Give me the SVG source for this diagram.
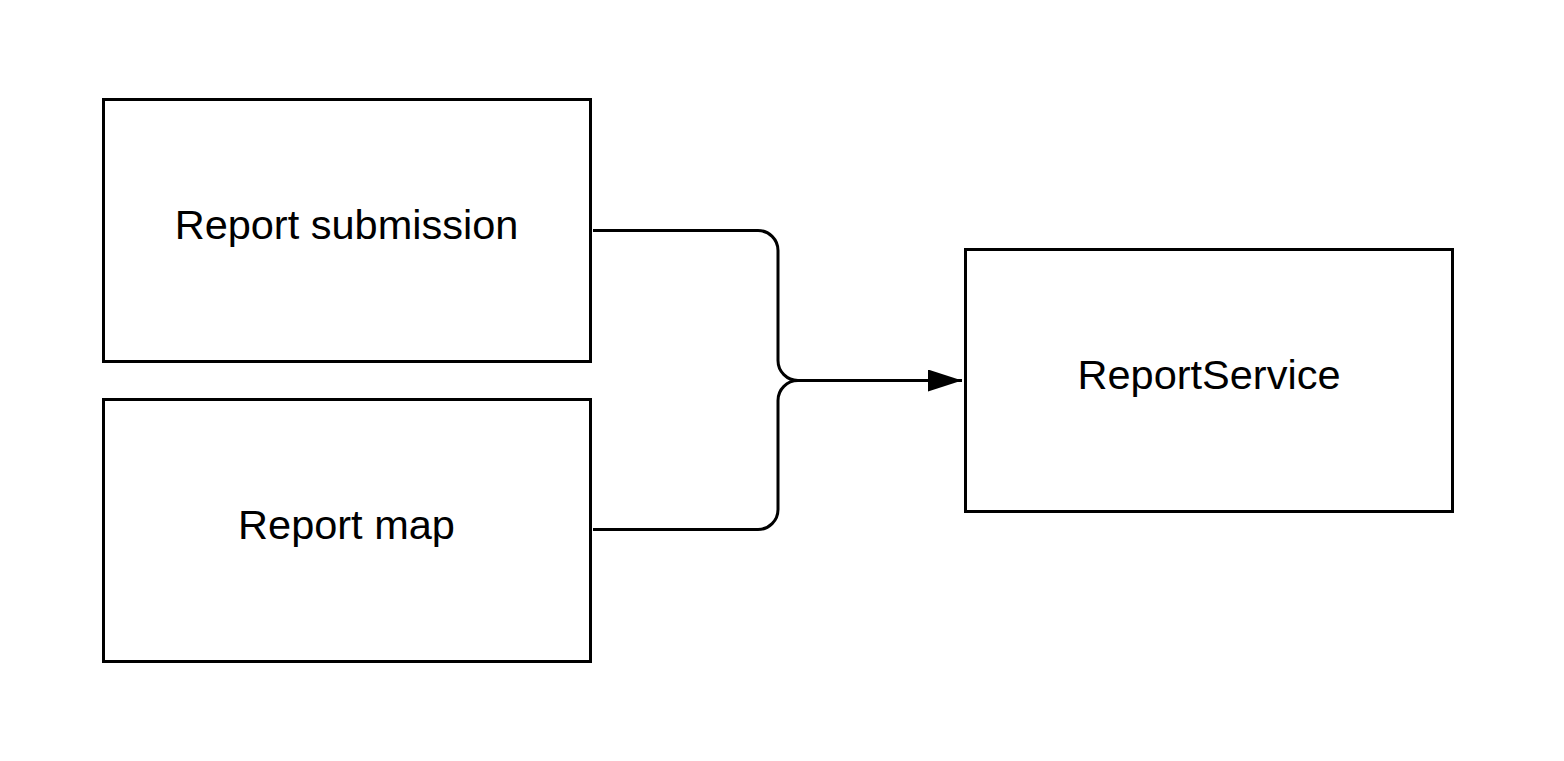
<svg xmlns="http://www.w3.org/2000/svg" width="1564" height="761" viewBox="0 0 1564 761">
<style>
.box{fill:#fff;stroke:#000;stroke-width:3}
.lbl{font-family:"Liberation Sans",Arial,sans-serif;font-size:41.5px;fill:#000;text-anchor:middle}
.conn{fill:none;stroke:#000;stroke-width:3}
</style>
<defs>
<marker id="arr" markerUnits="userSpaceOnUse" markerWidth="36" markerHeight="24" refX="34" refY="11" orient="auto">
<path d="M0,0 L34,11 L0,22 Z" fill="#000"/>
</marker>
</defs>
<rect width="1564" height="761" fill="#fff"/>
<g id="node-submission"><rect class="box" x="103.5" y="99.5" width="487" height="262"/><text class="lbl" x="346.5" y="239">Report submission</text></g>
<g id="node-map"><rect class="box" x="103.5" y="399.5" width="487" height="262"/><text class="lbl" x="346.5" y="539">Report map</text></g>
<g id="node-service"><rect class="box" x="965.5" y="249.5" width="487" height="262"/><text class="lbl" x="1209" y="389">ReportService</text></g>
<g id="connectors">
<path class="conn" d="M593,230.5 H758 A20,20 0 0 1 778,250.5 V360.5 A20,20 0 0 0 798,380.5 H962" marker-end="url(#arr)"/>
<path class="conn" d="M593,529.5 H758 A20,20 0 0 0 778,509.5 V400.5 A20,20 0 0 1 798,380.5"/>
</g>
</svg>
